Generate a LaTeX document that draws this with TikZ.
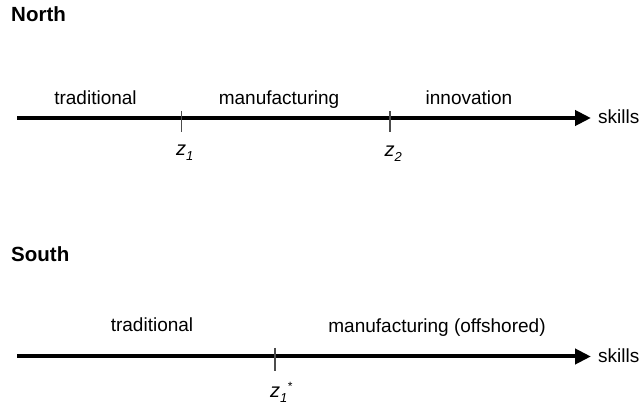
\documentclass[tikz,border=0pt]{standalone}
\usepackage{fontspec}
\setmainfont{Liberation Sans}
\usetikzlibrary{arrows.meta}
\newcommand{\subz}[1]{\raisebox{-5pt}{\fontsize{13}{13}\selectfont\itshape #1}}
\begin{document}
\begin{tikzpicture}[x=1pt,y=-1pt,
  axis/.style={line width=4pt, -{Triangle[length=16pt,width=15pt]}},
  tickmark/.style={line width=1.1pt, draw=black!70},
  lab/.style={font=\fontsize{19}{22}\selectfont, inner sep=0pt, anchor=base},
  head/.style={font=\fontsize{20.5}{24}\selectfont\bfseries, inner sep=0pt, anchor=base west},
  zl/.style={font=\fontsize{20}{24}\selectfont\itshape, inner sep=0pt, anchor=base west}]
\useasboundingbox (0,0) rectangle (643,411);
% North
\node[head] (north) at (11,22) {North};
\coordinate (na) at (17,118);
\coordinate (nb) at (591,118);
\draw[axis] (na) -- (nb);
\node[lab, anchor=base west] (nsk) at (598,124) {skills};
\coordinate (t1a) at (181.5,111);
\coordinate (t1b) at (181.5,132);
\coordinate (t2a) at (390,111);
\coordinate (t2b) at (390,132);
\draw[tickmark] (t1a) -- (t1b);
\draw[tickmark] (t2a) -- (t2b);
\node[lab] (ntrad) at (95.5,104.5) {traditional};
\node[lab] (nman) at (279,104.5) {manufacturing};
\node[lab] (ninn) at (469,104.5) {innovation};
\node[zl] (z1) at (176,156) {z\subz{1}};
\node[zl] (z2) at (384.5,157) {z\subz{2}};
% South
\node[head] (south) at (11,262) {South};
\coordinate (sa) at (17,356.5);
\coordinate (sb) at (591,356.5);
\draw[axis] (sa) -- (sb);
\node[lab, anchor=base west] (ssk) at (598,362.5) {skills};
\coordinate (t3a) at (275,348);
\coordinate (t3b) at (275,371);
\draw[tickmark] (t3a) -- (t3b);
\node[lab] (strad) at (152,332) {traditional};
\node[lab] (sman) at (437,333) {manufacturing (offshored)};
\node[zl] (z3) at (270,398) {z\subz{1}\raisebox{7pt}{\fontsize{12}{12}\selectfont *}};
\end{tikzpicture}
\end{document}
